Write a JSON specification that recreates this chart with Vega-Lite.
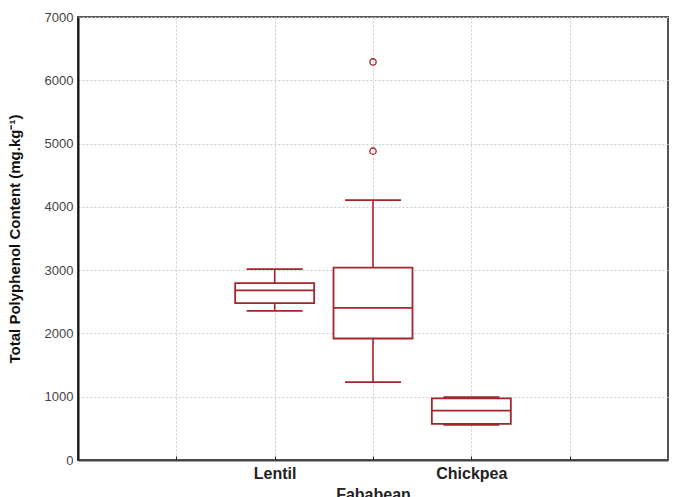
{
  "$schema": "https://vega.github.io/schema/vega-lite/v6.json",
  "autosize": "none",
  "width": 590,
  "height": 443,
  "padding": {"left": 78, "top": 17, "right": 5, "bottom": 37},
  "background": "white",
  "config": {
    "font": "Liberation Sans",
    "view": {"stroke": "#555555", "strokeWidth": 2}
  },
  "datasets": {
    "stats": [
      {"legume": "Lentil", "lower": 2355, "q1": 2480, "median": 2680, "q3": 2795, "upper": 3015},
      {"legume": "Fababean", "lower": 1230, "q1": 1920, "median": 2405, "q3": 3040, "upper": 4105},
      {"legume": "Chickpea", "lower": 555, "q1": 570, "median": 780, "q3": 975, "upper": 995}
    ],
    "outliers": [
      {"legume": "Fababean", "value": 6290},
      {"legume": "Fababean", "value": 4880}
    ]
  },
  "encoding": {
    "x": {
      "field": "legume",
      "type": "nominal",
      "scale": {"type": "point", "padding": 0, "domain": ["_0", "_1", "Lentil", "Fababean", "Chickpea", "_5", "_6"]},
      "axis": {
        "title": null,
        "values": ["_1", "Lentil", "Fababean", "Chickpea", "_5"],
        "labelExpr": "(datum.value === '_1' || datum.value === '_5') ? '' : datum.value",
        "labelAngle": 0,
        "labelFont": "Liberation Sans",
        "labelFontWeight": "bold",
        "labelFontSize": 16,
        "labelColor": "#222222",
        "labelPadding": {"condition": {"test": "datum.value === 'Fababean'", "value": 30}, "value": 9},
        "grid": true,
        "gridColor": "#cccccc",
        "gridDash": [2, 2],
        "gridWidth": 1,
        "domainColor": "#444444",
        "domainWidth": 2,
        "ticks": true,
        "tickSize": -4,
        "tickColor": "#222222",
        "tickWidth": 1
      }
    }
  },
  "layer": [
    {
      "data": {"name": "stats"},
      "mark": {"type": "rule", "color": "#a3262c", "strokeWidth": 1.6},
      "encoding": {
        "y": {
          "field": "lower",
          "type": "quantitative",
          "scale": {"domain": [0, 7000], "nice": false},
          "axis": {
            "title": "Total Polyphenol Content (mg.kg⁻¹)",
            "titleFont": "Liberation Sans",
            "titleFontWeight": "bold",
            "titleFontSize": 15,
            "titleColor": "#111111",
            "titlePadding": 22,
            "values": [0, 1000, 2000, 3000, 4000, 5000, 6000, 7000],
            "format": "d",
            "labelFont": "Liberation Sans",
            "labelFontSize": 13,
            "labelColor": "#444444",
            "labelPadding": 5,
            "ticks": false,
            "grid": true,
            "gridColor": "#cccccc",
            "gridDash": [2, 2],
            "gridWidth": 1,
            "domainColor": "#111111",
            "domainWidth": 2
          }
        },
        "y2": {"field": "upper"}
      }
    },
    {
      "data": {"name": "stats"},
      "mark": {"type": "bar", "fill": "white", "stroke": "#a3262c", "strokeWidth": 1.8, "width": 79},
      "encoding": {
        "y": {"field": "q1", "type": "quantitative"},
        "y2": {"field": "q3"}
      }
    },
    {
      "data": {"name": "stats"},
      "mark": {"type": "tick", "color": "#a3262c", "opacity": 1, "size": 79, "thickness": 1.8, "orient": "horizontal"},
      "encoding": {
        "y": {"field": "median", "type": "quantitative"}
      }
    },
    {
      "data": {"name": "stats"},
      "mark": {"type": "tick", "color": "#a3262c", "opacity": 1, "size": 56, "thickness": 1.8, "orient": "horizontal"},
      "encoding": {
        "y": {"field": "lower", "type": "quantitative"}
      }
    },
    {
      "data": {"name": "stats"},
      "mark": {"type": "tick", "color": "#a3262c", "opacity": 1, "size": 56, "thickness": 1.8, "orient": "horizontal"},
      "encoding": {
        "y": {"field": "upper", "type": "quantitative"}
      }
    },
    {
      "data": {"name": "outliers"},
      "mark": {"type": "point", "shape": "circle", "filled": false, "color": "#a3262c", "opacity": 1, "size": 40, "strokeWidth": 1.3},
      "encoding": {
        "y": {"field": "value", "type": "quantitative"}
      }
    }
  ]
}
